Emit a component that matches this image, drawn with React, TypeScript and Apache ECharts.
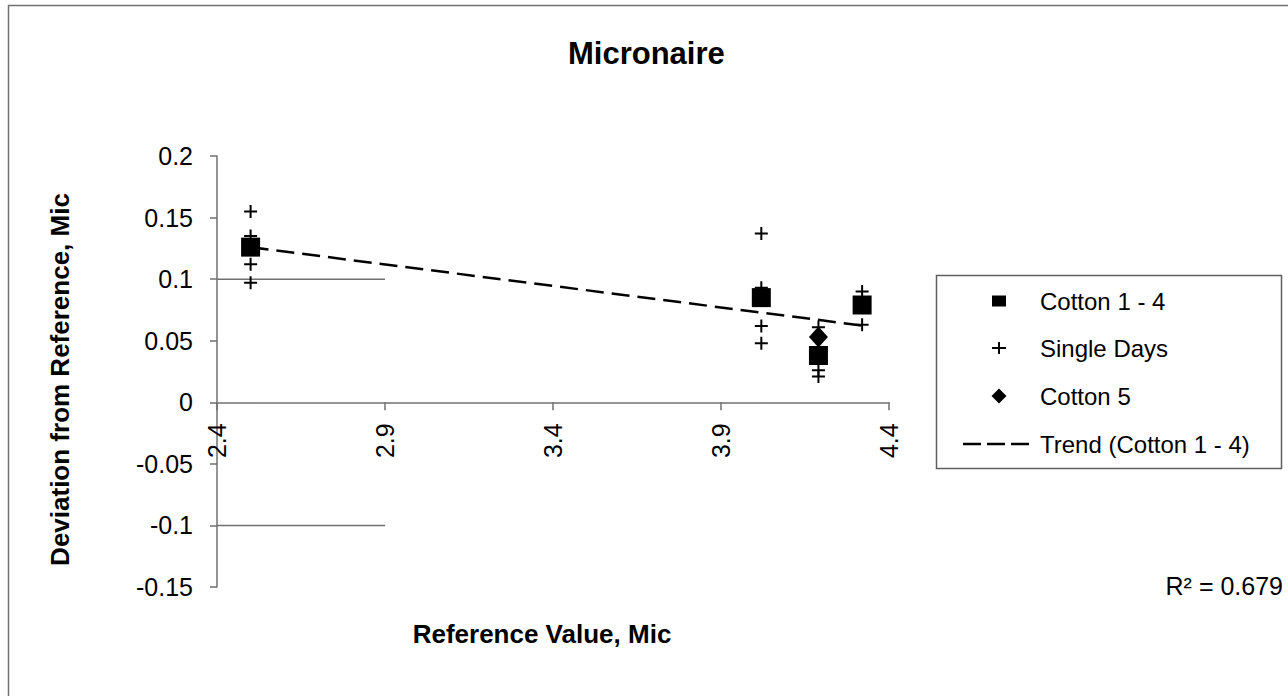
import React, { useEffect, useRef } from "react";
import * as echarts from "echarts";

// ---- data ----
const cottonX = [2.5, 4.02, 4.19, 4.32];
const cottonY = [0.126, 0.085, 0.038, 0.079];

const singleDayX = [2.5, 2.5, 2.5, 2.5, 4.02, 4.02, 4.02, 4.02, 4.19, 4.19, 4.19, 4.32, 4.32];
const singleDayY = [0.155, 0.135, 0.112, 0.097, 0.137, 0.093, 0.062, 0.048, 0.061, 0.026, 0.021, 0.09, 0.063];

const cotton5X = [4.19];
const cotton5Y = [0.053];

const limitX = [2.4, 2.9];
const limitLevels = [0.1, -0.1];

const xTicks = [2.4, 2.9, 3.4, 3.9, 4.4];
const yTicks = [-0.15, -0.1, -0.05, 0, 0.05, 0.1, 0.15, 0.2];

const legendLabels = ["Cotton 1 - 4", "Single Days", "Cotton 5", "Trend (Cotton 1 - 4)"];
const rSquaredLabel = "R² = 0.679";

const FONT = '"Liberation Sans", Arial, sans-serif';

function linearFit(xs: number[], ys: number[]) {
  const n = xs.length;
  const mx = xs.reduce((a, b) => a + b, 0) / n;
  const my = ys.reduce((a, b) => a + b, 0) / n;
  let sxy = 0;
  let sxx = 0;
  for (let i = 0; i < n; i++) {
    sxy += (xs[i] - mx) * (ys[i] - my);
    sxx += (xs[i] - mx) * (xs[i] - mx);
  }
  const slope = sxy / sxx;
  return { slope, intercept: my - slope * mx };
}

const PLUS = "path://M5.5,0 H7.5 V5.5 H13 V7.5 H7.5 V13 H5.5 V7.5 H0 V5.5 H5.5 Z";

const GRID = { left: 217, top: 156, right: 399, bottom: 109 };
const CHART_H = 696;

export default function App() {
  const ref = useRef<HTMLDivElement>(null);

  useEffect(() => {
    document.body.style.margin = "0";
    if (!ref.current) return;
    const chart = echarts.init(ref.current, undefined, { renderer: "svg" });

    const fit = linearFit(cottonX, cottonY);
    const x0 = Math.min(...cottonX);
    const x1 = Math.max(...cottonX);
    const trend = [
      [x0, fit.intercept + fit.slope * x0],
      [x1, fit.intercept + fit.slope * x1],
    ];

    // x axis crosses at y = 0: shift the whole axis (line, ticks, labels, name) up to zero
    const yMin = yTicks[0];
    const yMax = yTicks[yTicks.length - 1];
    const gridH = CHART_H - GRID.top - GRID.bottom;
    const zeroOffset = -((0 - yMin) / (yMax - yMin)) * gridH;

    const rowY = [301, 348, 396, 444];
    const legendTextX = 1040;

    chart.setOption({
      animation: false,
      backgroundColor: "#ffffff",
      title: {
        text: "Micronaire",
        left: 563,
        top: 33,
        textStyle: { fontFamily: FONT, fontSize: 31, fontWeight: "bold", color: "#000" },
      },
      grid: { ...GRID, containLabel: false, outerBoundsMode: "none" },
      xAxis: {
        type: "value",
        min: xTicks[0],
        max: xTicks[xTicks.length - 1],
        interval: 0.5,
        offset: zeroOffset,
        name: "Reference Value, Mic",
        nameLocation: "middle",
        nameGap: 219,
        nameTextStyle: { fontFamily: FONT, fontSize: 26, fontWeight: "bold", color: "#000", padding: [0, 22, 0, 0] },
        axisLine: { onZero: false, lineStyle: { color: "#707070", width: 1.5 } },
        axisTick: { show: true, length: 8, lineStyle: { color: "#707070", width: 1.5 } },
        axisLabel: {
          rotate: 90,
          margin: 21,
          fontFamily: FONT,
          fontSize: 25,
          color: "#000",
          formatter: (v: number) => v.toFixed(1),
        },
        splitLine: { show: false },
      },
      yAxis: {
        type: "value",
        min: yMin,
        max: yMax,
        interval: 0.05,
        name: "Deviation from Reference, Mic",
        nameLocation: "middle",
        nameGap: 144,
        nameTextStyle: { fontFamily: FONT, fontSize: 26, fontWeight: "bold", color: "#000", padding: [0, 16, 0, 0] },
        axisLine: { onZero: false, lineStyle: { color: "#707070", width: 1.5 } },
        axisTick: { show: true, length: 7, lineStyle: { color: "#707070", width: 1.5 } },
        axisLabel: {
          margin: 24,
          fontFamily: FONT,
          fontSize: 25,
          color: "#000",
          formatter: (v: number) => String(+v.toFixed(2)),
        },
        splitLine: { show: false },
      },
      series: [
        ...limitLevels.map((lv, i) => ({
          name: "Limit " + i,
          type: "line",
          silent: true,
          symbol: "none",
          data: limitX.map((x) => [x, lv]),
          lineStyle: { color: "#707070", width: 1.5 },
          z: 1,
        })),
        {
          name: legendLabels[1],
          type: "scatter",
          symbol: PLUS,
          symbolSize: 13,
          data: singleDayX.map((x, i) => [x, singleDayY[i]]),
          itemStyle: { color: "#000", opacity: 1 },
          z: 2,
        },
        {
          name: legendLabels[3],
          type: "line",
          symbol: "none",
          data: trend,
          lineStyle: { color: "#000", width: 2.5, type: [18, 8] },
          z: 3,
        },
        {
          name: legendLabels[0],
          type: "scatter",
          symbol: "rect",
          symbolSize: 19,
          data: cottonX.map((x, i) => [x, cottonY[i]]),
          itemStyle: { color: "#000", opacity: 1 },
          z: 4,
        },
        {
          name: legendLabels[2],
          type: "scatter",
          symbol: "diamond",
          symbolSize: [19, 21],
          data: cotton5X.map((x, i) => [x, cotton5Y[i]]),
          itemStyle: { color: "#000", opacity: 1 },
          z: 5,
        },
      ],
      graphic: [
        {
          type: "rect",
          shape: { x: 8.5, y: 5.5, width: 1300, height: 720 },
          style: { fill: "none", stroke: "#707070", lineWidth: 1.5 },
          silent: true,
          z: 0,
        },
        {
          type: "rect",
          shape: { x: 936.5, y: 275.5, width: 345, height: 193 },
          style: { fill: "#fff", stroke: "#606060", lineWidth: 1.5 },
          z: 10,
        },
        {
          type: "rect",
          shape: { x: 992, y: rowY[0] - 5.5, width: 14, height: 11 },
          style: { fill: "#000" },
          z: 11,
        },
        {
          type: "line",
          shape: { x1: 992, y1: rowY[1], x2: 1006, y2: rowY[1] },
          style: { stroke: "#000", lineWidth: 2 },
          z: 11,
        },
        {
          type: "line",
          shape: { x1: 999, y1: rowY[1] - 6, x2: 999, y2: rowY[1] + 6 },
          style: { stroke: "#000", lineWidth: 2 },
          z: 11,
        },
        {
          type: "polygon",
          shape: {
            points: [
              [999, rowY[2] - 7.5],
              [1006.5, rowY[2]],
              [999, rowY[2] + 7.5],
              [991.5, rowY[2]],
            ],
          },
          style: { fill: "#000" },
          z: 11,
        },
        {
          type: "line",
          shape: { x1: 963, y1: rowY[3], x2: 1033, y2: rowY[3] },
          style: { stroke: "#000", lineWidth: 2.5, lineDash: [18, 6] },
          z: 11,
        },
        ...legendLabels.map((t, i) => ({
          type: "text",
          x: legendTextX,
          y: rowY[i],
          style: {
            text: t,
            fontFamily: FONT,
            fontSize: 24,
            fill: "#000",
            textAlign: "left",
            textVerticalAlign: "middle",
          },
          z: 11,
        })),
        {
          type: "text",
          x: 1283,
          y: 586,
          style: {
            text: rSquaredLabel,
            fontFamily: FONT,
            fontSize: 25,
            fill: "#000",
            textAlign: "right",
            textVerticalAlign: "middle",
          },
          z: 11,
        },
      ],
    });

    return () => chart.dispose();
  }, []);

  return <div ref={ref} style={{ width: 1288, height: 696 }} />;
}
